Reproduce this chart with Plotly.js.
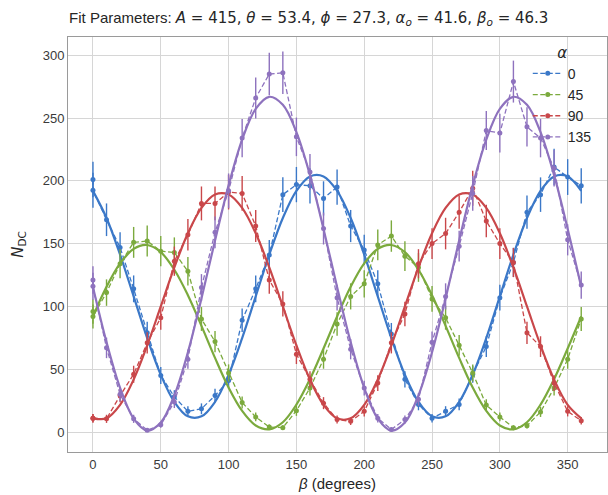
<!DOCTYPE html>
<html>
<head>
<meta charset="utf-8">
<script src="https://cdn.plot.ly/plotly-3.0.1.min.js"></script>
<style>html,body{margin:0;padding:0;background:#fff;}#chart{width:608px;height:495px;}</style>
</head>
<body>
<div id="chart"></div>
<script>
// Measured beta values (degrees) — first angle measured twice
const betaData = [0,0,10,20,30,40,50,60,70,80,90,100,110,120,130,140,150,160,170,180,190,200,210,220,230,240,250,260,270,280,290,300,310,320,330,340,350,360];
// Measured counts N_DC for each alpha
const n0   = [201,192.5,169,147,114,79,45,28,16.5,18.5,29,41,89,114,141,189,197,196,186,195,164,145,118,78,42,22,11,16.5,22,46,68,107,135,175,189,211,203,196];
const n45  = [96,92,111,134,151,152,144,143,128,90,72,47,23.5,12,4,3.5,17,35,58,86,108,118,149,156,140,131,106,91,69,47,21.5,12,3.5,5,16,35,58,90];
const n90  = [11,11,10.5,29,46,71,91,136,157,182,182,191,190,164,121,102,62,42,23,10,8.5,16.5,39,71,94,134,150,158,175,194,168,150,135,79,68,39,16.5,9];
const n135 = [121,116,67,30,10.5,1.5,5.7,24,58,115,159,192,234,266,285,286,235,207,162,107,66,35,11,2,10,26,71.5,108,148,190,240,238,279,243,234,210,153,117];

// Fit curves (beta every 10 degrees)
const betaFit = [0,10,20,30,40,50,60,70,80,90,100,110,120,130,140,150,160,170,180,190,200,210,220,230,240,250,260,270,280,290,300,310,320,330,340,350,360];
const fit0   = [192,170.4,141.2,108,74.8,45.6,24,12.5,12.5,24,45.6,74.8,108,141.2,170.4,192,203.5,203.5,192,170.4,141.2,108,74.8,45.6,24,12.5,12.5,24,45.6,74.8,108,141.2,170.4,192,203.5,203.5,192];
const fit45  = [92,115.6,134.2,145.8,148.9,143.2,129.2,108.9,84.5,59,35.4,16.8,5.2,2.1,7.8,21.8,42.1,66.5,92,115.6,134.2,145.8,148.9,143.2,129.2,108.9,84.5,59,35.4,16.8,5.2,2.1,7.8,21.8,42.1,66.5,92];
const fit90  = [10.9,10.9,21.6,41.8,69,100,131,158.2,178.4,189.1,189.1,178.4,158.2,131,100,69,41.8,21.6,10.9,10.9,21.6,41.8,69,100,131,158.2,178.4,189.1,189.1,178.4,158.2,131,100,69,41.8,21.6,10.9];
const fit135 = [115.5,71.6,35.2,10.7,1.1,7.5,29.2,63.5,106.3,152.5,196.4,232.8,257.3,266.9,260.5,238.8,204.5,161.7,115.5,71.6,35.2,10.7,1.1,7.5,29.2,63.5,106.3,152.5,196.4,232.8,257.3,266.9,260.5,238.8,204.5,161.7,115.5];

const alphaLabels = ['0','45','90','135'];
const colors = ['#3B78C8','#7BAA3D','#C9474A','#8E72BE'];
const dataSets = [n0, n45, n90, n135];
const fitSets = [fit0, fit45, fit90, fit135];

const traces = [];
for (let i = 0; i < 4; i++) {
  traces.push({
    x: betaData, y: dataSets[i], type: 'scatter', mode: 'lines+markers',
    name: alphaLabels[i], legendrank: i + 1,
    line: {color: colors[i], width: 1.3, dash: '5px,2.5px'},
    marker: {color: colors[i], size: 5},
    error_y: {type: 'sqrt', visible: true, color: colors[i], thickness: 1.4, width: 0}
  });
  traces.push({
    x: betaFit, y: fitSets[i], type: 'scatter', mode: 'lines',
    showlegend: false, hoverinfo: 'skip',
    line: {color: colors[i], width: 2.2, shape: 'spline'}
  });
}

const axisCommon = {
  showgrid: true, gridcolor: '#d6d6d6', gridwidth: 1,
  zeroline: false, showline: true, mirror: true, linecolor: '#9a9a9a', linewidth: 1,
  ticks: '', tickfont: {family: 'Liberation Sans, Arial, sans-serif', size: 13, color: '#3a3a3a'}
};

const layout = {
  width: 608, height: 495,
  margin: {l: 68, r: 1, t: 37, b: 43},
  paper_bgcolor: '#ffffff', plot_bgcolor: '#ffffff',
  showlegend: true,
  title: {
    text: 'Fit Parameters: <span style="font-family:DejaVu Sans"><i>A</i> = 415, <i>θ</i> = 53.4, <i>ϕ</i> = 27.3, <i>α<sub>o</sub></i> = 41.6, <i>β<sub>o</sub></i> = 46.3</span>',
    font: {family: 'Liberation Sans, Arial, sans-serif', size: 15, color: '#262626'},
    xref: 'paper', x: 0.002, xanchor: 'left',
    yref: 'container', y: 0.965, yanchor: 'middle'
  },
  xaxis: Object.assign({}, axisCommon, {
    range: [-18.4, 379], tickvals: [0,50,100,150,200,250,300,350],
    title: {text: '<i>β</i> (degrees)', font: {family: 'Liberation Sans, Arial, sans-serif', size: 15, color: '#262626'}, standoff: 7}
  }),
  yaxis: Object.assign({}, axisCommon, {
    range: [-15.9, 314.5], tickvals: [0,50,100,150,200,250,300],
    title: {text: '<i>N</i><sub>DC</sub>', font: {family: 'DejaVu Sans, sans-serif', size: 15, color: '#262626'}, standoff: 15}
  }),
  legend: {
    x: 0.853, y: 0.997, xanchor: 'left', yanchor: 'top',
    bgcolor: 'rgba(0,0,0,0)', borderwidth: 0,
    font: {family: 'Liberation Sans, Arial, sans-serif', size: 14, color: '#262626'},
    title: {text: '<i>α</i>', side: 'top center', font: {family: 'DejaVu Sans, sans-serif', size: 15, color: '#262626'}},
    tracegroupgap: 0
  }
};

Plotly.newPlot('chart', traces, layout, {displayModeBar: false, staticPlot: true});
</script>
</body>
</html>
